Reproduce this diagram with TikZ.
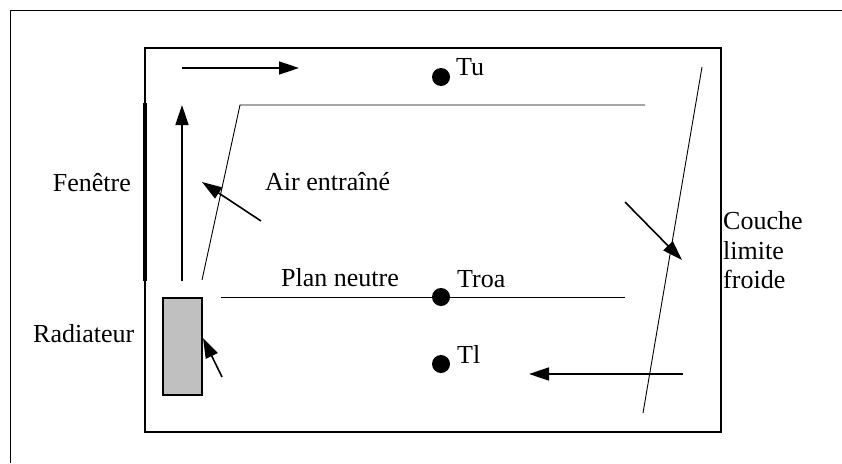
\documentclass[tikz,border=0pt]{standalone}
\usepackage{fontspec}
\setmainfont{Liberation Serif}
\usetikzlibrary{arrows.meta}
\begin{document}
\begin{tikzpicture}[x=1pt,y=-1pt,
  thinline/.style={line width=0.9pt},
  flow/.style={line width=1.6pt,-{Triangle[length=20pt,width=13pt]}},
  lbl/.style={font=\fontsize{26}{30}\selectfont,inner sep=0pt},
  probe/.style={circle,fill=black,minimum size=18pt,inner sep=0pt}]
\useasboundingbox (0,0) rectangle (842,463);
% outer frame (cropped)
\draw[line width=1pt] (10.5,463) -- (10.5,10) -- (842,10);
% room
\draw[line width=1.8pt] (145,48) rectangle (721,432);
% window
\draw[line width=4.5pt] (145,103) -- (145,281);
% radiator
\node[draw,line width=1.2pt,fill={rgb,255:red,192;green,192;blue,192},minimum width=39pt,minimum height=97pt,inner sep=0pt] (rad) at (182.5,346.5) {};
% entrained air boundary
\coordinate (e1) at (202,280);
\coordinate (e2) at (240,105);
\coordinate (e3) at (645,105);
\draw[thinline] (e1) -- (e2) -- (e3);
% neutral plane
\coordinate (n1) at (221,297);
\coordinate (n2) at (625,297);
\draw[thinline] (n1) -- (n2);
% cold boundary layer
\coordinate (c1) at (702,67);
\coordinate (c2) at (643,413);
\draw[thinline] (c1) -- (c2);
% flow arrows
\coordinate (a1s) at (182,68); \coordinate (a1e) at (299,68);
\draw[flow] (a1s) -- (a1e);
\coordinate (a2s) at (182,281); \coordinate (a2e) at (182,105);
\draw[flow] (a2s) -- (a2e);
\coordinate (a3s) at (261,221); \coordinate (a3e) at (202,182);
\draw[flow] (a3s) -- (a3e);
\coordinate (a4s) at (625,202); \coordinate (a4e) at (682,260);
\draw[flow] (a4s) -- (a4e);
\coordinate (a5s) at (683,374); \coordinate (a5e) at (529,374);
\draw[flow] (a5s) -- (a5e);
\coordinate (a6s) at (222,377); \coordinate (a6e) at (203,338);
\draw[flow] (a6s) -- (a6e);
% probes
\node[probe] (tu) at (441,77) {};
\node[probe] (troa) at (441,297) {};
\node[probe] (tl) at (441,364) {};
\node[lbl,anchor=base west] (tutxt) at (456,75) {Tu};
\node[lbl,anchor=base west] (troatxt) at (457,287) {Troa};
\node[lbl,anchor=base west] (tltxt) at (457,363) {Tl};
% labels
\node[lbl,anchor=base east] (fen) at (131,191) {Fenêtre};
\node[lbl,anchor=base west] (radtxt) at (33,342) {Radiateur};
\node[lbl,anchor=base west] (air) at (265,190) {Air entraîné};
\node[lbl,anchor=base west] (plan) at (281,286) {Plan neutre};
\node[lbl,anchor=base west] (c) at (723,229) {Couche};
\node[lbl,anchor=base west] (l) at (723,259) {limite};
\node[lbl,anchor=base west] (f) at (723,288) {froide};
\end{tikzpicture}
\end{document}
